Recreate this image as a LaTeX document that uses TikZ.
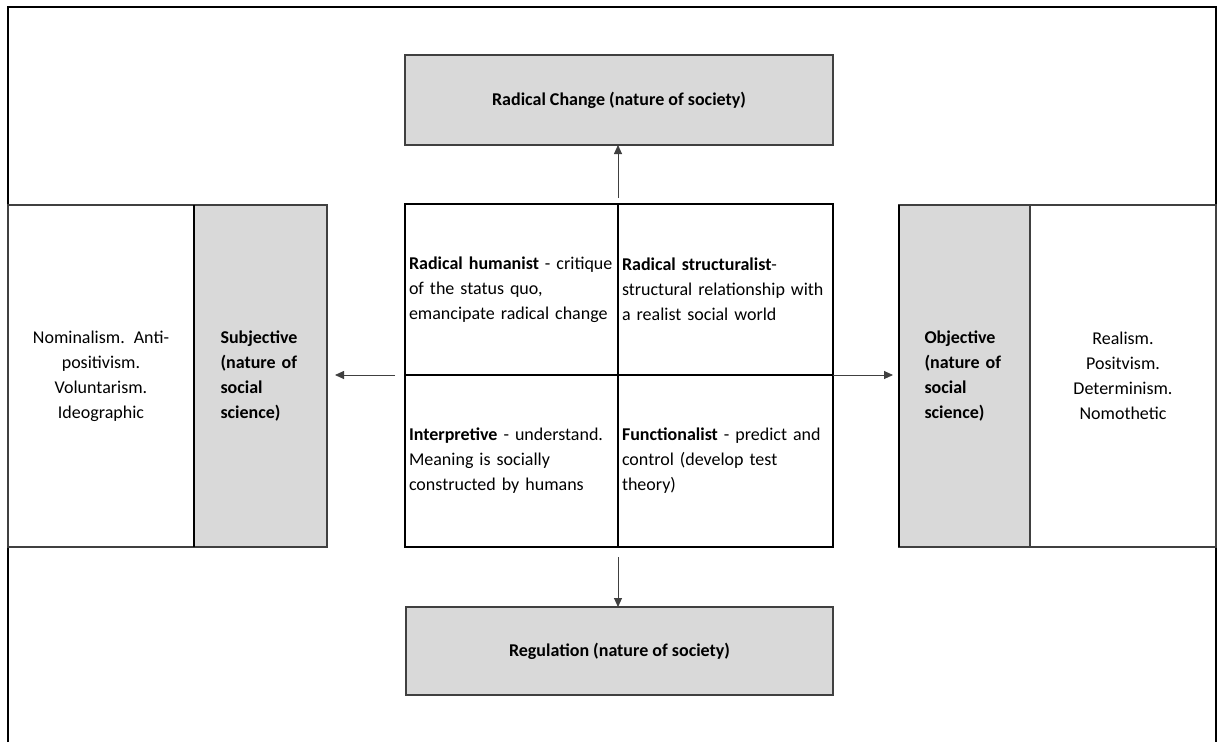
\documentclass[tikz,border=0pt]{standalone}
\usepackage{fontspec}
\setmainfont{Carlito}
\usetikzlibrary{arrows.meta}
\definecolor{boxgray}{HTML}{D9D9D9}
\definecolor{edgegray}{HTML}{404040}

\begin{document}
\begin{tikzpicture}[x=1pt,y=-1pt,
  every node/.style={font=\fontsize{18}{25}\selectfont, inner sep=0pt, outer sep=0pt, anchor=north west},
  plainbox/.style={draw=edgegray, line width=1.2pt, align=center},
  graybox/.style={draw=edgegray, line width=1.2pt, fill=boxgray},
  sidebox/.style={graybox, text width=80pt, align=left},
  cell/.style={draw=black, line width=2pt, inner xsep=4pt, align=left},
  arr/.style={draw=edgegray, line width=0.9pt, -{Triangle[length=9pt,width=8pt]}},
]
% page and outer frame (open at the bottom)
\fill[white] (0,0) rectangle (1221,742);
\useasboundingbox (0,0) rectangle (1221,742);
\draw[line width=1.2pt] (8,742) -- (8,7) -- (1216,7) -- (1216,742);

% nature of society
\node[graybox, minimum width=428pt, minimum height=90pt, align=center] (rc) at (405,55)
  {\textbf{Radical Change (nature of society)}};
\node[graybox, minimum width=427pt, minimum height=88pt, align=center] (reg) at (406,607)
  {\textbf{Regulation (nature of society)}};

% nature of social science, subjective side
\node[plainbox, minimum width=186pt, minimum height=342pt, text width=180pt] (nom) at (8,205)
  {Nominalism. Anti-\\positivism.\\Voluntarism.\\Ideographic};
\node[sidebox, minimum width=133pt, minimum height=342pt] (subj) at (194,205)
  {\textbf{Subjective}\\\textbf{(nature of}\\\textbf{social}\\\textbf{science)}};
\draw[line width=2pt] (subj.north west) -- (subj.south west);

% nature of social science, objective side
\node[sidebox, minimum width=131pt, minimum height=342pt] (obj) at (899,205)
  {\textbf{Objective}\\\textbf{(nature of}\\\textbf{social}\\\textbf{science)}};
\draw[line width=2pt] (obj.north west) -- (obj.south west);
\node[plainbox, minimum width=186pt, minimum height=342pt, text width=180pt] (real) at (1030,205)
  {Realism.\\Positvism.\\Determinism.\\Nomothetic};

% the four paradigms
\node[cell, minimum width=213pt, minimum height=171pt, text width=205pt] (hum) at (405,204)
  {\textbf{Radical humanist} - critique\\of the status quo,\\emancipate radical change};
\node[cell, minimum width=215pt, minimum height=171pt, text width=207pt] (str) at (618,204)
  {\textbf{Radical structuralist}-\\structural relationship with\\a realist social world};
\node[cell, minimum width=213pt, minimum height=172pt, text width=205pt] (int) at (405,375)
  {\textbf{Interpretive} - understand.\\Meaning is socially\\constructed by humans};
\node[cell, minimum width=215pt, minimum height=172pt, text width=207pt] (fun) at (618,375)
  {\textbf{Functionalist} - predict and\\control (develop test\\theory)};

% dimension arrows
\draw[arr, shorten <=6pt] (hum.north east) -- (hum.north east |- rc.south);
\draw[arr, shorten <=10pt] (int.south east) -- (int.south east |- reg.north);
\draw[arr, shorten <=10pt, shorten >=8pt] (hum.south west) -- (subj.east |- hum.south west);
\draw[arr, shorten >=6pt] (str.south east) -- (obj.west |- str.south east);
\end{tikzpicture}
\end{document}
